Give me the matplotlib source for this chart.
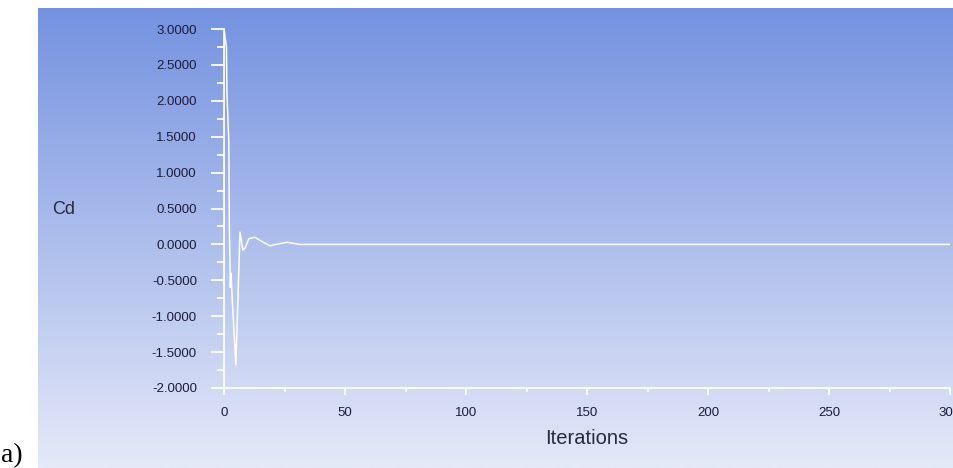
import numpy as np
import matplotlib
matplotlib.use("Agg")
from matplotlib import pyplot as plt
from matplotlib.ticker import MultipleLocator, FormatStrFormatter

# Cd history (iteration, Cd)
iterations = [0, 1.0, 1.2, 2.0, 2.2, 2.6, 2.9, 3.3, 4.9, 6.6, 7.8, 8.7,
              10.3, 12.8, 15.7, 19.0, 21.5, 26.0, 29.5, 31.4, 300]
cd = [3.0, 2.75, 2.12, 1.43, 0.30, -0.60, -0.40, -0.70, -1.68, 0.17, -0.08, -0.05,
      0.08, 0.10, 0.04, -0.02, 0.0, 0.03, 0.01, 0.0, 0.0]

x_ticks = [0, 50, 100, 150, 200, 250, 300]

plt.rcParams['font.family'] = ['Liberation Sans', 'DejaVu Sans']

fig = plt.figure(figsize=(9.54, 4.68), dpi=100)

# gradient background panel
bg = fig.add_axes([38 / 954, 0, 916 / 954, 460 / 468])
grad = np.linspace(0, 1, 256).reshape(-1, 1)
top = np.array([116, 146, 224]) / 255
bottom = np.array([229, 233, 248]) / 255
img = top + (bottom - top) * grad[:, :, None]
bg.imshow(img, aspect='auto', extent=[0, 1, 0, 1], origin='upper')
bg.axis('off')

ax = fig.add_axes([224 / 954, 80 / 468, 726 / 954, 359 / 468])
ax.patch.set_alpha(0)
ax.plot(iterations, cd, color='white', lw=1.1)

ax.set_xlim(0, 300)
ax.set_ylim(-2, 3)
ax.set_xticks(x_ticks)
ax.xaxis.set_minor_locator(MultipleLocator(25))
ax.yaxis.set_major_locator(MultipleLocator(0.5))
ax.yaxis.set_minor_locator(MultipleLocator(0.25))
ax.yaxis.set_major_formatter(FormatStrFormatter('%.4f'))

for s in ['top', 'right']:
    ax.spines[s].set_visible(False)
for s in ['left', 'bottom']:
    ax.spines[s].set_color('white')
    ax.spines[s].set_linewidth(1.3)

ax.tick_params(axis='y', which='major', length=9.5, width=1.3, color='white',
               pad=10, labelsize=9.5, labelcolor='#1c1c3a')
ax.tick_params(axis='y', which='minor', length=5, width=1.3, color='white')
ax.tick_params(axis='x', which='major', length=5, width=1.3, color='white',
               pad=9, labelsize=9.5, labelcolor='#1c1c3a')
ax.tick_params(axis='x', which='minor', length=3, width=1.3, color='white')

fig.text(52 / 954, 1 - 210 / 468, 'Cd', fontsize=13, color='#2a2a3a',
         ha='left', va='center')
fig.text(587 / 954, 1 - 438 / 468, 'Iterations', fontsize=14.5, color='#2a2a3a',
         ha='center', va='center')
fig.text(1 / 954, 1 - 456 / 468, 'a)', fontsize=20, color='black',
         family='Liberation Serif', ha='left', va='center')

fig.savefig('out.png', dpi=100)
